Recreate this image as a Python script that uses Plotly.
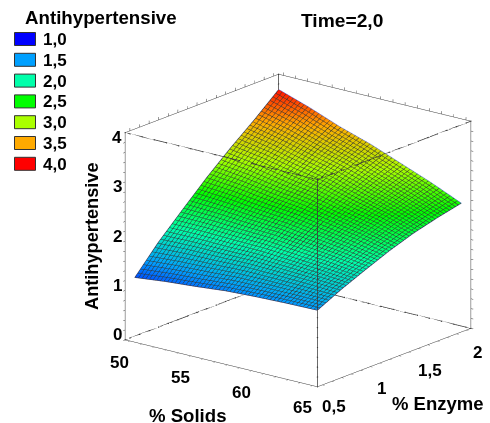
import plotly.graph_objects as go

# Data
solids = [50, 52.5, 55, 57.5, 60, 62.5, 65]
enzyme = [0.5, 0.75, 1.0, 1.25, 1.5, 1.75, 2.0]
# rows follow enzyme, columns follow solids
antihypertensive = [
    [1.25, 1.32, 1.37, 1.43, 1.46, 1.48, 1.49],
    [1.79, 1.81, 1.81, 1.82, 1.80, 1.77, 1.73],
    [2.26, 2.24, 2.20, 2.17, 2.10, 2.03, 1.94],
    [2.72, 2.66, 2.57, 2.50, 2.39, 2.28, 2.14],
    [3.14, 3.04, 2.91, 2.80, 2.64, 2.49, 2.31],
    [3.53, 3.39, 3.22, 3.06, 2.86, 2.66, 2.44],
    [3.95, 3.74, 3.50, 3.30, 3.06, 2.82, 2.55],
]
legend_values = ["1,0", "1,5", "2,0", "2,5", "3,0", "3,5", "4,0"]
legend_colors = ["#0000ff", "#00a0ff", "#00ffaa", "#00ff00", "#aaff00", "#ffaa00", "#ff0000"]
x_labels = {50: "50", 55: "55", 60: "60", 65: "65"}
y_labels = {0.5: "0,5", 1.0: "1", 1.5: "1,5", 2.0: "2"}
z_labels = {0: "0", 1: "1", 2: "2", 3: "3", 4: "4"}
x_ticks = list(range(50, 66))
y_ticks = [0.5, 0.6, 0.7, 0.8, 0.9, 1.0, 1.1, 1.2, 1.3, 1.4, 1.5, 1.6, 1.7, 1.8, 1.9, 2.0]
z_ticks = [0, 0.2, 0.4, 0.6, 0.8, 1.0, 1.2, 1.4, 1.6, 1.8, 2.0, 2.2, 2.4, 2.6, 2.8, 3.0, 3.2, 3.4, 3.6, 3.8, 4.0]

W, H = 490, 423
FONT = "Liberation Sans"
X_RANGE = [49.6, 65.4]
Y_RANGE = [0.45, 2.05]
Z_RANGE = [0, 4.2]
EDGE = "#3a3a3a"
OUTLINE = "#4a5fdc"
scale = [[i / 6, c] for i, c in enumerate(legend_colors)]

fig = go.Figure(go.Surface(
    x=solids, y=enzyme, z=antihypertensive,
    colorscale=scale, cmin=1, cmax=4, showscale=False,
    lighting=dict(ambient=1, diffuse=0, specular=0, roughness=1, fresnel=0),
    contours=dict(
        x=dict(show=True, start=50, end=65, size=0.3, color="rgba(0,0,0,0.8)", width=1),
        y=dict(show=True, start=0.5, end=2, size=0.03, color="rgba(0,0,0,0.8)", width=1),
    ),
    hoverinfo="skip",
))

# Outline of the surface
n = len(solids)
m = len(enzyme)
edge_x = solids + [solids[-1]] * m + solids[::-1] + [solids[0]] * m
edge_y = [enzyme[0]] * n + enzyme + [enzyme[-1]] * n + enzyme[::-1]
edge_z = (antihypertensive[0]
          + [row[-1] for row in antihypertensive]
          + antihypertensive[-1][::-1]
          + [row[0] for row in antihypertensive[::-1]])
fig.add_trace(go.Scatter3d(x=edge_x, y=edge_y, z=edge_z, mode="lines",
                           line=dict(color=OUTLINE, width=1.5), hoverinfo="skip"))


def box_edge(xs, ys, zs):
    fig.add_trace(go.Scatter3d(x=xs, y=ys, z=zs, mode="lines+markers",
                               line=dict(color=EDGE, width=1.5),
                               marker=dict(color=EDGE, size=0.8), hoverinfo="skip"))


x0, x1 = X_RANGE
y0, y1 = Y_RANGE
z0, z1 = Z_RANGE
# Box edges the scene does not draw by itself, carrying the same tick positions
box_edge([x1] + [x1] * len(z_ticks) + [x1], [y0] * (len(z_ticks) + 2), [z0] + z_ticks + [z1])
box_edge([x0] + [x0] * len(z_ticks) + [x0], [y1] * (len(z_ticks) + 2), [z0] + z_ticks + [z1])
box_edge([x0] + x_ticks + [x1], [y0] * (len(x_ticks) + 2), [z1] * (len(x_ticks) + 2))
box_edge([x1] * (len(y_ticks) + 2), [y0] + y_ticks + [y1], [z1] * (len(y_ticks) + 2))
box_edge([x0] + x_ticks + [x1], [y1] * (len(x_ticks) + 2), [z0] * (len(x_ticks) + 2))
box_edge([x0] * (len(y_ticks) + 2), [y0] + y_ticks + [y1], [z0] * (len(y_ticks) + 2))


def axis(rng, ticks):
    return dict(
        range=rng, tickmode="array", tickvals=ticks, showticklabels=False,
        showbackground=False, showgrid=False, zeroline=False, showspikes=False,
        showline=True, linecolor=EDGE, linewidth=1, mirror="allticks",
        ticks="inside", ticklen=3, tickcolor=EDGE, tickwidth=1,
        title=dict(text=""),
    )


TICK_FONT = dict(family=FONT, size=17, color="black", weight="bold")
ylow = Y_RANGE[0] + 0.002
xlow = X_RANGE[0] + 0.01
scene_notes = []
for v, t in x_labels.items():
    scene_notes.append(dict(x=v, y=ylow, z=Z_RANGE[0], text=t, xshift=-10, yshift=-22))
for v, t in y_labels.items():
    scene_notes.append(dict(x=X_RANGE[1], y=v, z=Z_RANGE[0], text=t, xshift=12, yshift=-22))
for v, t in z_labels.items():
    scene_notes.append(dict(x=xlow, y=ylow, z=v, text=t, xshift=-8, yshift=5))
for note in scene_notes:
    note.update(showarrow=False, font=TICK_FONT)

fig.update_layout(
    width=W, height=H, margin=dict(l=0, r=0, t=0, b=0),
    paper_bgcolor="white", showlegend=False,
    scene=dict(
        domain=dict(x=[0.2175, 0.9967], y=[0.0, 0.9102]),
        xaxis=axis(X_RANGE, x_ticks),
        yaxis=axis(Y_RANGE, y_ticks),
        zaxis=axis(Z_RANGE, z_ticks),
        aspectmode="manual", aspectratio=dict(x=1.28, y=1.275, z=1.13),
        camera=dict(
            projection=dict(type="orthographic"),
            eye=dict(x=0.937, y=-1.17, z=0.48),
            up=dict(x=0, y=0, z=1), center=dict(x=0, y=0, z=0),
        ),
        annotations=scene_notes,
    ),
)


def px(x):
    return x / W


def py(y):
    return 1 - y / H


def label(text, x, y, size=18, angle=0, anchor="center"):
    fig.add_annotation(
        text=text, x=px(x), y=py(y), xref="paper", yref="paper", showarrow=False,
        textangle=angle, xanchor=anchor, yanchor="middle",
        font=dict(family=FONT, size=size, color="black", weight="bold"),
    )


label("Antihypertensive", 101, 18, size=18.7)
label("Time=2,0", 342, 21, size=19.2)
label("% Solids", 188, 415, size=18.6)
label("% Enzyme", 438, 403, size=18.5)
label("Antihypertensive", 92, 236, angle=-90, size=18.2)
for i, (t, c) in enumerate(zip(legend_values, legend_colors)):
    yc = 39 + i * 20.8
    fig.add_shape(type="rect", xref="paper", yref="paper",
                  x0=px(14.5), x1=px(35.5), y0=py(yc - 6.5), y1=py(yc + 6.5),
                  fillcolor=c, line=dict(color="#333333", width=1))
    label(t, 41, yc + 0.5, size=17, anchor="left")

fig.write_html("out.html", config={"displayModeBar": False},
               post_script="document.body.style.margin='0';")
